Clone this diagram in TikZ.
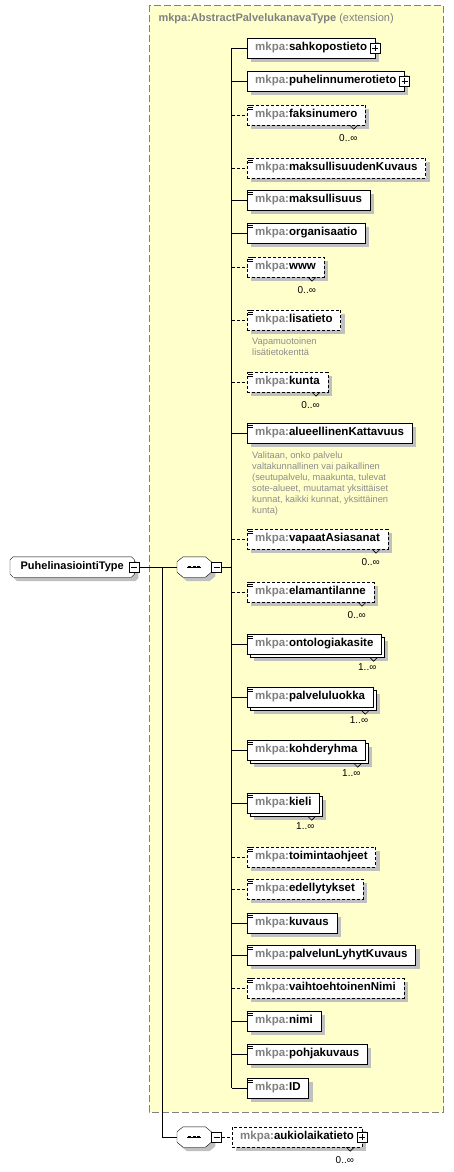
\documentclass[tikz,border=0pt]{standalone}
\usepackage{fontspec}
\setmainfont{Liberation Sans}
\usetikzlibrary{positioning}
\usetikzlibrary{calc}

\definecolor{extfill}{RGB}{255,255,204}
\definecolor{extline}{RGB}{128,128,128}
\definecolor{shadowgray}{RGB}{192,192,192}
\definecolor{prefixgray}{RGB}{128,128,128}
\definecolor{notegray}{RGB}{140,140,140}

\pgfdeclarelayer{backdrop}
\pgfdeclarelayer{shapes}
\pgfsetlayers{backdrop,shapes,main}

\newcommand{\mk}[1]{{\color{prefixgray}mkpa:}#1}
\newcommand{\docicon}[1]{\foreach \k in {1pt,3pt,5pt} \draw [line width = 0.7pt] ([xshift = 1pt, yshift = -\k]#1.north west) -- ++(5pt,0);}
\newcommand{\chev}[3]{\draw [line width = 0.6pt] ([xshift = #2, yshift = #3]#1.south east) -- ++(4pt,-4pt) -- ++(4pt,4pt);}
\newcommand{\seqdots}[1]{\draw [line width = 0.8pt] ([xshift = -7pt]#1.center) -- ([xshift = 7pt]#1.center);
  \foreach \d in {-4.5pt,0pt,4.5pt} \fill ([xshift = \d]#1.center) +(-1.3pt,-1.3pt) rectangle +(1.3pt,1.3pt);}
\newcommand{\cutbox}[3]{\begin{pgfonlayer}{shapes}
  \draw [fill = white, shadowed] ([xshift = #2]#1.north west) -- ([xshift = -#2]#1.north east) -- ([yshift = -#3]#1.north east)
    -- ([yshift = #3]#1.south east) -- ([xshift = -#2]#1.south east) -- ([xshift = #2]#1.south west)
    -- ([yshift = #3]#1.south west) -- ([yshift = -#3]#1.north west) -- cycle;
\end{pgfonlayer}}

\begin{document}
\begin{tikzpicture}[x = 1pt, y = -1pt, line width = 1pt, font = \fontsize{11}{13}\selectfont]
\tikzset{
  shadowed/.style = {preaction = {fill = shadowgray, draw = none, transform canvas = {shift = {(4pt,-4pt)}}}},
  box/.style = {draw, fill = white, rectangle, anchor = west, minimum height = 20pt, inner xsep = 8pt, inner ysep = 0pt, font = \fontsize{11.5}{13}\selectfont\bfseries},
  elem/.style = {box, shadowed},
  optelem/.style = {elem, dash pattern = on 3pt off 2pt},
  multielem/.style = {box,
    preaction = {fill = shadowgray, draw = none, transform canvas = {shift = {(7pt,-7pt)}}},
    preaction = {draw, fill = white, transform canvas = {shift = {(3pt,-3pt)}}}},
  optline/.style = {dash pattern = on 3pt off 2pt},
  typebox/.style = {rectangle, anchor = west, minimum width = 124pt, minimum height = 20pt, inner xsep = 5pt, inner ysep = 0pt, font = \fontsize{11}{13}\selectfont\bfseries},
  seqbox/.style = {rectangle, anchor = west, minimum width = 34pt, minimum height = 20pt, inner sep = 0pt},
  collapse/.style = {draw, fill = white, rectangle, minimum size = 10pt, inner sep = 0pt,
    path picture = {\draw ([xshift = 2pt]path picture bounding box.west) -- ([xshift = -2pt]path picture bounding box.east);}},
  expand/.style = {draw, fill = white, rectangle, minimum size = 10pt, inner sep = 0pt,
    path picture = {\draw ([xshift = 2pt]path picture bounding box.west) -- ([xshift = -2pt]path picture bounding box.east);
      \draw ([yshift = -2pt]path picture bounding box.north) -- ([yshift = 2pt]path picture bounding box.south);}},
  mult/.style = {anchor = east, inner sep = 0pt, font = \fontsize{10}{12}\selectfont},
  note/.style = {anchor = north west, align = left, inner sep = 0pt, text = notegray, font = \fontsize{9.3}{11}\selectfont},
}
\useasboundingbox (0,0) rectangle (453,1172);
\begin{pgfonlayer}{backdrop}
\draw [fill = extfill, draw = extline, dash pattern = on 7pt off 3pt] (149,5) rectangle (443,1112);
\end{pgfonlayer}
\node [anchor = west, text = prefixgray] (extTitle) at (155,19) {\textbf{mkpa:AbstractPalvelukanavaType} (extension)};

\node [typebox] (puhelinasiointi) at (10,567) {PuhelinasiointiType\hspace{12pt}};
\cutbox{puhelinasiointi}{3pt}{3pt}
\node [collapse] (puhelinasiointiMinus) at (puhelinasiointi.east) {};
\node [seqbox] (seqMain) at (177,567) {};
\cutbox{seqMain}{6pt}{5pt}
\node [collapse, right = 0pt of seqMain] (seqMainMinus) {};
\node [seqbox] (seqLast) at (177,1137) {};
\cutbox{seqLast}{6pt}{5pt}
\node [collapse, right = 0pt of seqLast] (seqLastMinus) {};
\seqdots{seqMain}
\seqdots{seqLast}
\coordinate (fork) at (162.5,567);
\coordinate (bus) at (231.5,0);

\node [elem] (sahkopostieto) at (247,48) {\mk{sahkopostieto}\hspace{6pt}};
\node [elem] (puhelinnumerotieto) at (247,81) {\mk{puhelinnumerotieto}\hspace{6pt}};
\node [optelem] (faksinumero) at (247,115) {\mk{faksinumero}};
\node [optelem] (maksullisuudenKuvaus) at (247,168) {\mk{maksullisuudenKuvaus}};
\node [elem] (maksullisuus) at (247,200) {\mk{maksullisuus}};
\node [elem] (organisaatio) at (247,233) {\mk{organisaatio}};
\node [optelem] (www) at (247,267) {\mk{www}};
\node [optelem] (lisatieto) at (247,320) {\mk{lisatieto}};
\node [optelem] (kunta) at (247,382) {\mk{kunta}};
\node [elem] (alueellinenKattavuus) at (247,433) {\mk{alueellinenKattavuus}};
\node [optelem] (vapaatAsiasanat) at (247,539) {\mk{vapaatAsiasanat}};
\node [optelem] (elamantilanne) at (247,592) {\mk{elamantilanne}};
\node [multielem] (ontologiakasite) at (247,644) {\mk{ontologiakasite}};
\node [multielem] (palveluluokka) at (247,697) {\mk{palveluluokka}};
\node [multielem] (kohderyhma) at (247,750) {\mk{kohderyhma}};
\node [multielem] (kieli) at (247,803) {\mk{kieli}};
\node [optelem] (toimintaohjeet) at (247,857) {\mk{toimintaohjeet}};
\node [optelem] (edellytykset) at (247,889) {\mk{edellytykset}};
\node [elem] (kuvaus) at (247,923) {\mk{kuvaus}};
\node [elem] (palvelunLyhytKuvaus) at (247,955) {\mk{palvelunLyhytKuvaus}};
\node [optelem] (vaihtoehtoinenNimi) at (247,988) {\mk{vaihtoehtoinenNimi}};
\node [elem] (nimi) at (247,1021) {\mk{nimi}};
\node [elem] (pohjakuvaus) at (247,1054) {\mk{pohjakuvaus}};
\node [elem] (ID) at (247,1088) {\mk{ID}};
\node [optelem] (aukiolaikatieto) at (232,1137) {\mk{aukiolaikatieto}\hspace{6pt}};

\node [expand] (sahkopostietoPlus) at (sahkopostieto.east) {};
\node [expand] (puhelinnumerotietoPlus) at (puhelinnumerotieto.east) {};
\node [expand] (aukiolaikatietoPlus) at (aukiolaikatieto.east) {};

\foreach \n in {faksinumero, maksullisuudenKuvaus, maksullisuus, organisaatio, www, lisatieto, kunta, alueellinenKattavuus, vapaatAsiasanat, elamantilanne, ontologiakasite, palveluluokka, kohderyhma, kieli, toimintaohjeet, edellytykset, kuvaus, palvelunLyhytKuvaus, vaihtoehtoinenNimi, nimi, pohjakuvaus, ID}
  {\docicon{\n}}

\foreach \n in {faksinumero, www, kunta, vapaatAsiasanat, elamantilanne, aukiolaikatieto}
  {\chev{\n}{-16pt}{0pt}
   \node [mult] (\n Mult) at ([shift = {(-8pt,-13pt)}]\n.south east) {0..∞};}
\foreach \n in {ontologiakasite, palveluluokka, kohderyhma, kieli}
  {\chev{\n}{-12pt}{-3pt}
   \node [mult] (\n Mult) at ([shift = {(-5pt,-13pt)}]\n.south east) {1..∞};}

\node [note] (lisatietoNote) at ([shift = {(5pt,-7pt)}]lisatieto.south west) {Vapamuotoinen\\lisätietokenttä};
\node [note] (alueellinenKattavuusNote) at ([shift = {(5pt,-8pt)}]alueellinenKattavuus.south west)
  {Valitaan, onko palvelu\\valtakunnallinen vai paikallinen\\(seutupalvelu, maakunta, tulevat\\sote-alueet, muutamat yksittäiset\\kunnat, kaikki kunnat, yksittäinen\\kunta)};

\draw (puhelinasiointiMinus) -- (seqMain);
\draw (fork) |- (seqLast);
\draw (seqMainMinus) -- (bus |- seqMainMinus);
\draw [optline] (seqLastMinus) -- (aukiolaikatieto);
\draw (bus |- sahkopostieto.west) -- (bus |- ID.west);
\foreach \n in {sahkopostieto, puhelinnumerotieto, maksullisuus, organisaatio, alueellinenKattavuus, ontologiakasite, palveluluokka, kohderyhma, kieli, kuvaus, palvelunLyhytKuvaus, nimi, pohjakuvaus, ID}
  \draw (bus |- \n.west) -- (\n);
\foreach \n in {faksinumero, maksullisuudenKuvaus, www, lisatieto, kunta, vapaatAsiasanat, elamantilanne, toimintaohjeet, edellytykset, vaihtoehtoinenNimi}
  \draw [optline] (bus |- \n.west) -- (\n);
\end{tikzpicture}
\end{document}
